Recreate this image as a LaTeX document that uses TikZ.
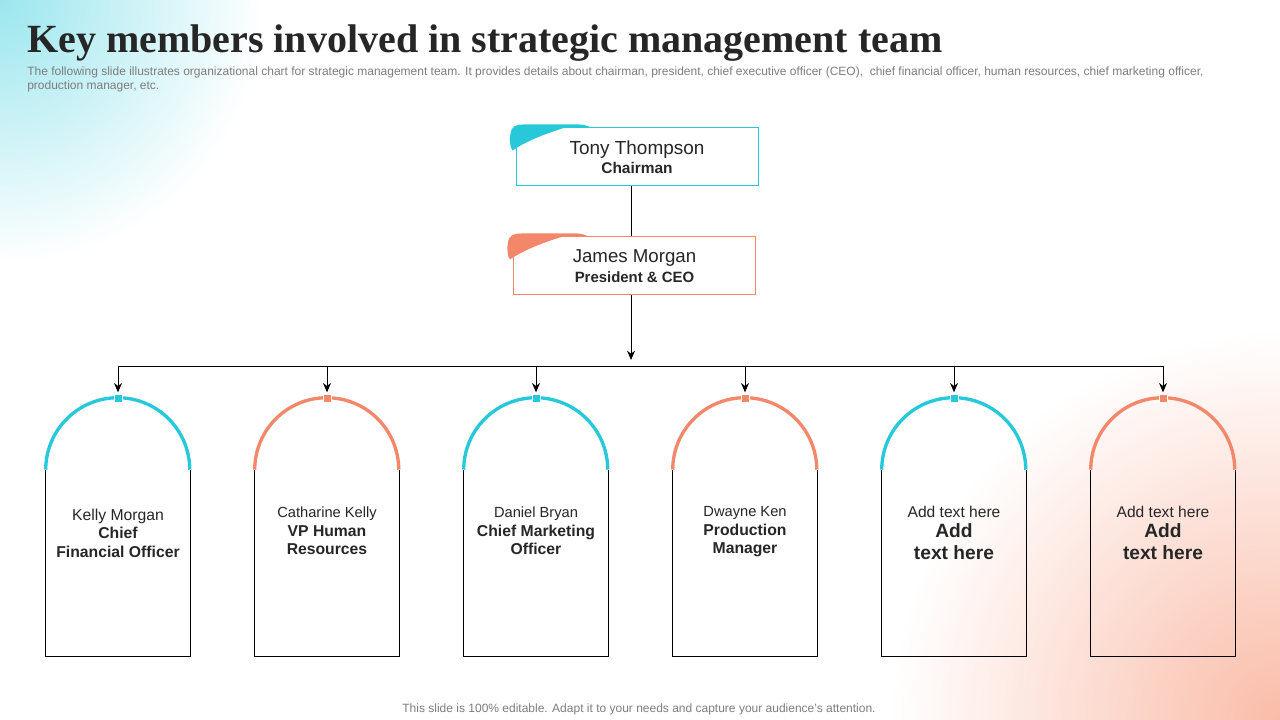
\documentclass[tikz,border=0pt]{standalone}
\usepackage{fontspec}
\setmainfont{Liberation Sans}
\newfontfamily\titlefont{Liberation Serif}
\usetikzlibrary{arrows.meta, positioning, calc}
\definecolor{tealc}{RGB}{38,200,218}
\definecolor{salmonc}{RGB}{243,135,106}
\definecolor{glowteal}{RGB}{155,230,238}
\definecolor{glowsalmon}{RGB}{250,188,168}
\definecolor{inkc}{RGB}{38,38,38}
\definecolor{notec}{RGB}{125,125,125}

% tab on the top left corner of a head box
\newcommand{\headtab}[2]{%
  \begin{scope}[shift={(#1)}]
    \fill[#2] (-3,-23) .. controls (-6,-20) and (-6,-10) .. (-5,-6)
      .. controls (-4,1) and (0,3) .. (8,3) -- (64,3)
      .. controls (70,3) and (72,1) .. (76,0) -- (50,0)
      .. controls (30,-6) and (10,-14) .. cycle;
  \end{scope}}

\tikzset{
  headbox/.style={draw=#1, line width=0.75pt, fill=white, minimum width=181.5pt, minimum height=43.5pt, align=center, text=inkc, font=\fontsize{11}{15}\selectfont},
  cardbox/.style={inner sep=0pt, minimum width=108pt, minimum height=139.5pt},
  marker/.style={fill=#1, draw=white, line width=0.5pt, inner sep=0pt, minimum size=6pt},
  cardtext/.style={align=center, text=inkc, font=\fontsize{11}{13.9}\selectfont},
}

\begin{document}
\begin{tikzpicture}[x=0.75pt, y=0.75pt, >={Stealth[length=7pt,width=6pt]}]
\useasboundingbox (0,0) rectangle (1280,720);
\begin{scope}
\clip (0,0) rectangle (1280,720);
\fill[white] (0,0) rectangle (1280,720);
\shade[inner color=glowteal, outer color=white] (0,720) circle (265);
\shade[inner color=glowsalmon, outer color=white] (1280,0) circle (390);
\end{scope}

% title
\node[anchor=base west, inner sep=0pt, text=inkc, font=\titlefont\bfseries\fontsize{30}{34}\selectfont] (title) at (27,667) {Key members involved in strategic management team};
\node[anchor=base west, inner sep=0pt, text=notec, font=\fontsize{9}{10}\selectfont] (sub1) at (27,644) {The following slide illustrates organizational chart for strategic management team. It provides details about chairman, president, chief executive officer (CEO),\ \ chief financial officer, human resources, chief marketing officer,};
\node[anchor=base west, inner sep=0pt, text=notec, font=\fontsize{9}{10}\selectfont] (sub2) at (27,630) {production manager, etc.};

% top of the chart
\node[headbox=tealc] (chair) at (637,563) {{\fontsize{14.2}{15}\selectfont Tony Thompson}\\[-0.5pt]{\bfseries\fontsize{11.6}{15}\selectfont Chairman}};
\node[headbox=salmonc] (ceo) at (634.5,454) {{\fontsize{14}{15}\selectfont James Morgan}\\[-0.5pt]{\bfseries\fontsize{11.2}{15}\selectfont President \& CEO}};
\headtab{chair.north west}{tealc}
\headtab{ceo.north west}{salmonc}

\coordinate (hub) at (631,360);
\draw[line width=0.7pt] (chair.south -| hub) -- (ceo.north -| hub);
\draw[->, line width=0.7pt] (ceo.south -| hub) -- (hub);

% cards
\foreach \i/\x/\c in {1/118/tealc, 2/327/salmonc, 3/536/tealc, 4/745/salmonc, 5/954/tealc, 6/1163/salmonc} {
  \node[cardbox] (card\i) at (\x,157) {};
  \draw[\c, line width=2.5pt] (card\i.north west) arc (180:0:72);
  \draw[line width=0.6pt] (card\i.north west) -- (card\i.south west) -- (card\i.south east) -- (card\i.north east);
  \node[marker=\c] (mk\i) at (\x,322) {};
  \coordinate (bus\i) at (\x,354);
  \draw[->, line width=0.7pt, shorten >=1pt] (bus\i) -- (mk\i.north);
}
\draw[line width=0.7pt] (bus1) -- (bus6);

\node[cardtext] (t1) at (118,187) {{\fontsize{11.8}{14}\selectfont Kelly Morgan}\\\textbf{\fontsize{11.8}{14}\selectfont Chief}\\\textbf{\fontsize{11.8}{14}\selectfont Financial Officer}};
\node[cardtext] (t2) at (327,189) {Catharine Kelly\\\textbf{\fontsize{11.8}{14}\selectfont VP Human}\\\textbf{\fontsize{11.8}{14}\selectfont Resources}};
\node[cardtext] (t3) at (536,189) {Daniel Bryan\\\textbf{\fontsize{11.8}{14}\selectfont Chief Marketing}\\\textbf{\fontsize{11.8}{14}\selectfont Officer}};
\node[cardtext] (t4) at (745,188) {Dwayne Ken\\\textbf{\fontsize{11.8}{14}\selectfont Production}\\\textbf{\fontsize{11.8}{14}\selectfont Manager}};
\node[cardtext] (t5) at (954,187) {{\fontsize{11.7}{14}\selectfont Add text here}\\[1pt]{\bfseries\fontsize{14.4}{17}\selectfont Add}\\[3pt]{\bfseries\fontsize{14.4}{17}\selectfont text here}};
\node[cardtext] (t6) at (1163,187) {{\fontsize{11.7}{14}\selectfont Add text here}\\[1pt]{\bfseries\fontsize{14.4}{17}\selectfont Add}\\[3pt]{\bfseries\fontsize{14.4}{17}\selectfont text here}};

% footer
\node[anchor=base, inner sep=0pt, text=notec, font=\fontsize{9}{10}\selectfont] (foot) at (639,7) {This slide is 100\% editable. Adapt it to your needs and capture your audience's attention.};
\end{tikzpicture}
\end{document}
